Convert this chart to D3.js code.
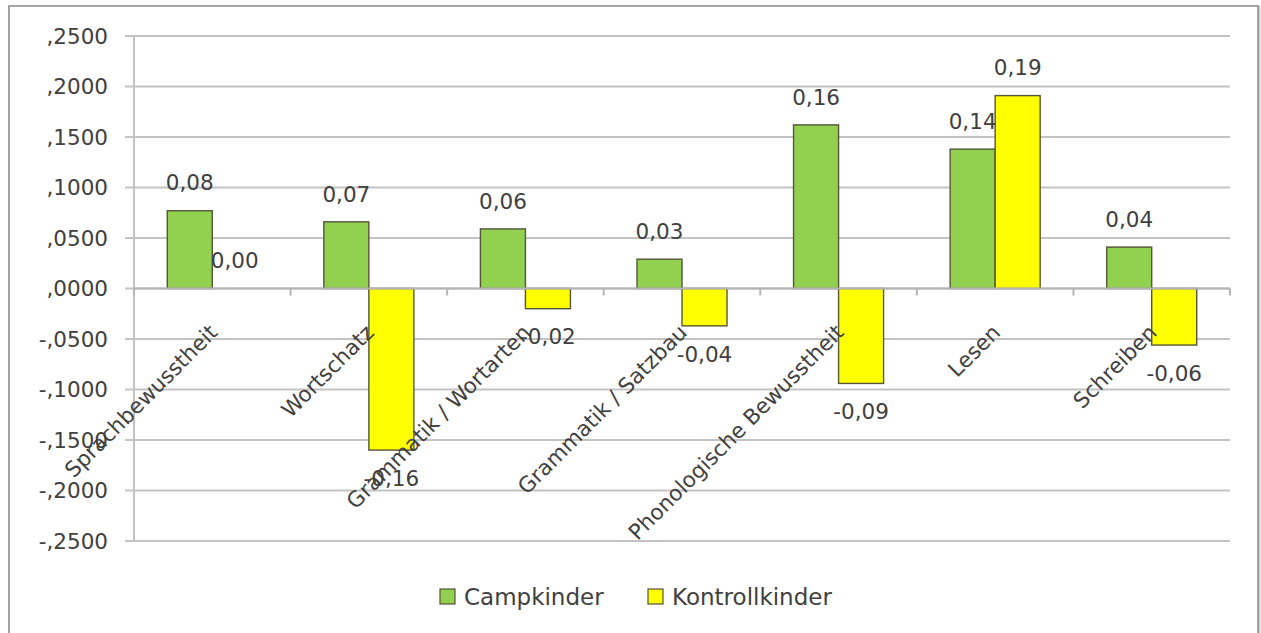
<!DOCTYPE html>
<html><head><meta charset="utf-8">
<script src="https://cdn.jsdelivr.net/npm/d3@7"></script>
<style>
body{margin:0;background:#fff;}
svg{display:block;font-family:"DejaVu Sans",sans-serif;}
</style></head><body>
<svg id="c" width="1261" height="633"></svg>
<script>
const categories = ["Sprachbewusstheit","Wortschatz","Grammatik / Wortarten","Grammatik / Satzbau","Phonologische Bewusstheit","Lesen","Schreiben"];
const seriesNames = ["Campkinder","Kontrollkinder"];
const campkinder = [0.077, 0.066, 0.059, 0.029, 0.162, 0.138, 0.041];
const kontrollkinder = [0.000, -0.160, -0.020, -0.037, -0.094, 0.191, -0.056];
const yTicks = [0.25, 0.2, 0.15, 0.1, 0.05, 0, -0.05, -0.1, -0.15, -0.2, -0.25];
const yTickLabels = [",2500",",2000",",1500",",1000",",0500",",0000","-,0500","-,1000","-,1500","-,2000","-,2500"];
const colors = ["#92D050","#FFFF00"];

const svg = d3.select("#c");
const textColor = "#404040";
const gridColor = "#c3c3c3";
const fs = 21.5;

// outer frame
svg.append("rect").attr("x",10).attr("y",7).attr("width",1249).attr("height",640)
  .attr("fill","none").attr("stroke","#d0d0d0").attr("stroke-width",3);
svg.append("rect").attr("x",9).attr("y",6).attr("width",1249).attr("height",640)
  .attr("fill","#fff").attr("stroke","#8a8a8a").attr("stroke-width",1.5);

const y = d3.scaleLinear().domain([-0.25,0.25]).range([541,36]);
const x0 = d3.scaleBand().domain(categories).range([134,1230]);
const bw = x0.bandwidth();
const groupW = bw*0.575;
const x1 = d3.scaleBand().domain(seriesNames).range([(bw-groupW)/2,(bw+groupW)/2]);

// gridlines + y labels
const g = svg.append("g");
yTicks.forEach((t,i)=>{
  g.append("line").attr("x1",125).attr("x2",1230).attr("y1",y(t)).attr("y2",y(t))
   .attr("stroke",gridColor).attr("stroke-width",2);
  g.append("text").attr("x",108).attr("y",y(t)).attr("dy","0.36em")
   .attr("text-anchor","end").attr("font-size",fs).attr("fill",textColor).text(yTickLabels[i]);
});
g.append("line").attr("x1",134).attr("x2",134).attr("y1",y(0.25)).attr("y2",y(-0.25))
  .attr("stroke",gridColor).attr("stroke-width",2);

// bars
const data = categories.map((c,i)=>({cat:c, vals:[campkinder[i],kontrollkinder[i]]}));
const bars = svg.append("g");
data.forEach(d=>{
  d.vals.forEach((v,j)=>{
    if (v === 0) return;
    const xx = x0(d.cat)+x1(seriesNames[j]);
    bars.append("rect").attr("x",xx).attr("width",x1.bandwidth())
      .attr("y",Math.min(y(v),y(0))).attr("height",Math.abs(y(v)-y(0)))
      .attr("fill",colors[j]).attr("stroke","#55553a").attr("stroke-width",1.4);
  });
});

// zero axis with ticks
svg.append("line").attr("x1",134).attr("x2",1230).attr("y1",y(0)).attr("y2",y(0))
  .attr("stroke","#b5b5b5").attr("stroke-width",2);
d3.range(categories.length+1).forEach(i=>{
  const xx = 134 + i*bw;
  svg.append("line").attr("x1",xx).attr("x2",xx).attr("y1",y(0)).attr("y2",y(0)+7)
    .attr("stroke","#b5b5b5").attr("stroke-width",2);
});

// category labels
categories.forEach(c=>{
  const cx = x0(c)+bw/2-5, cy = y(0)+34;
  svg.append("text").attr("transform",`translate(${cx},${cy}) rotate(-45)`)
    .attr("text-anchor","end").attr("dy","0.75em").attr("font-size",fs)
    .attr("fill",textColor).text(c);
});

// data labels
const fmt = v => (v<0?"-":"") + Math.abs(v).toFixed(2).replace(".",",");
data.forEach(d=>{
  d.vals.forEach((v,j)=>{
    const cx = x0(d.cat)+x1(seriesNames[j])+x1.bandwidth()/2;
    const cy = v>=0 ? y(v)-28 : y(v)+28;
    svg.append("text").attr("x",cx).attr("y",cy).attr("dy","0.36em")
      .attr("text-anchor","middle").attr("font-size",fs).attr("fill",textColor).text(fmt(v));
  });
});

// legend
const legend = [{name:"Campkinder",x:440},{name:"Kontrollkinder",x:648}];
legend.forEach((l,i)=>{
  svg.append("rect").attr("x",l.x).attr("y",589).attr("width",15).attr("height",15)
    .attr("fill",colors[i]).attr("stroke","#55553a").attr("stroke-width",1.2);
  svg.append("text").attr("x",l.x+24).attr("y",597).attr("dy","0.36em")
    .attr("font-size",23).attr("fill",textColor).text(l.name);
});
</script></body></html>
